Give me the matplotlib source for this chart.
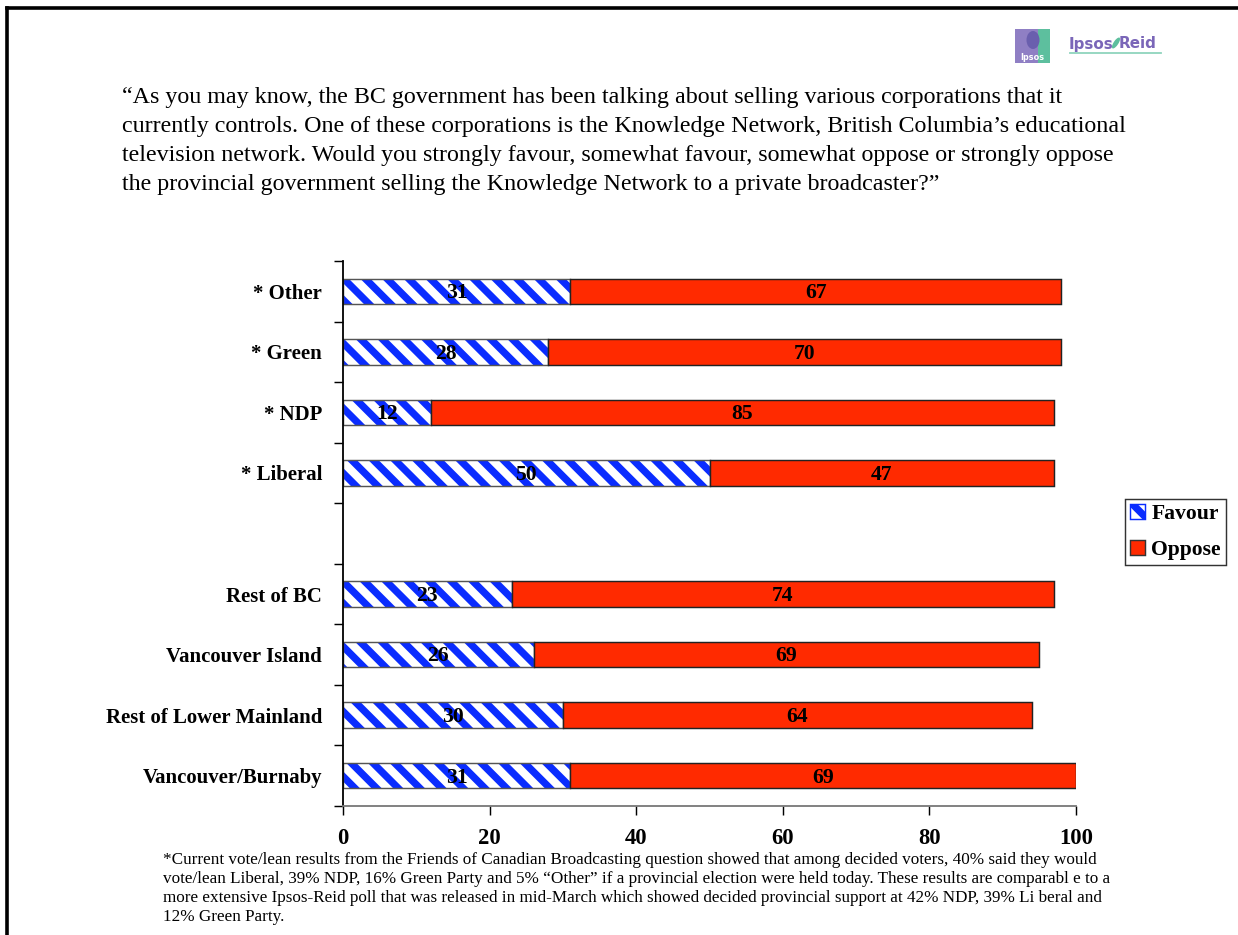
import numpy as np
import matplotlib.pyplot as plt
from matplotlib.patches import Rectangle, Ellipse
from matplotlib.lines import Line2D

# survey groups, top to bottom ("" is the spacer row between the two blocks)
categories = ["* Other", "* Green", "* NDP", "* Liberal", "",
              "Rest of BC", "Vancouver Island", "Rest of Lower Mainland", "Vancouver/Burnaby"]
favour = [31, 28, 12, 50, None, 23, 26, 30, 31]
oppose = [67, 70, 85, 47, None, 74, 69, 64, 69]

question = ("\u201cAs you may know, the BC government has been talking about selling various corporations that it\n"
            "currently controls. One of these corporations is the Knowledge Network, British Columbia\u2019s educational\n"
            "television network. Would you strongly favour, somewhat favour, somewhat oppose or strongly oppose\n"
            "the provincial government selling the Knowledge Network to a private broadcaster?\u201d")

footnote = ("*Current vote/lean results from the Friends of Canadian Broadcasting question showed that among decided voters, 40% said they would\n"
            "vote/lean Liberal, 39% NDP, 16% Green Party and 5% \u201cOther\u201d if a provincial election were held today. These results are comparabl e to a\n"
            "more extensive Ipsos-Reid poll that was released in mid-March which showed decided provincial support at 42% NDP, 39% Li beral and\n"
            "12% Green Party.")

W, H = 1238, 935
DPI = 130
BLUE = "#0a2cff"
RED = "#ff2a00"
SERIF = ["Liberation Serif", "DejaVu Serif"]

plt.rcParams["hatch.linewidth"] = 4.0


def fx(px):
    return px / W


def fy(py):
    return 1 - py / H


fig = plt.figure(figsize=(W / DPI, H / DPI), dpi=DPI)

# page frame (top and left edges)
fig.add_artist(Line2D([fx(7), fx(7)], [fy(8), 0], color="black", lw=2))
fig.add_artist(Line2D([fx(7), 1], [fy(8), fy(8)], color="black", lw=2))

ax = fig.add_axes([fx(343), fy(806), fx(1076) - fx(343), (806 - 261) / H])

n = len(categories)
ypos = np.arange(n)[::-1]
for y, f, o in zip(ypos, favour, oppose):
    if f is None:
        continue
    ax.barh(y, f, height=0.42, color="white", edgecolor=BLUE, hatch="\\\\", lw=0)
    ax.barh(y, f, height=0.42, color="none", edgecolor="#555555", lw=0.8)
    ax.barh(y, o, left=f, height=0.42, color=RED, edgecolor="#222222", lw=0.8)
    ax.text(f / 2, y - 0.03, str(f), ha="center", va="center", fontsize=12,
            fontweight="bold", family=SERIF)
    ax.text(f + o / 2, y - 0.03, str(o), ha="center", va="center", fontsize=12,
            fontweight="bold", family=SERIF)

ax.set_xlim(0, 100)
ax.set_ylim(-0.5, n - 0.5)
ax.set_xticks(range(0, 101, 20))
ax.set_xticklabels([str(v) for v in range(0, 101, 20)], fontsize=12.5,
                   fontweight="bold", family=SERIF)
ax.tick_params(axis="x", direction="out", length=5, width=0.8, pad=7, colors="black")

ax.set_yticks(ypos)
ax.set_yticklabels(categories, fontsize=11.5, fontweight="bold", family=SERIF)
ax.set_yticks(np.arange(-0.5, n, 1), minor=True)
ax.tick_params(axis="y", which="major", length=0, pad=11.5)
ax.tick_params(axis="y", which="minor", length=5, width=0.8)

for side in ("top", "right"):
    ax.spines[side].set_visible(False)
ax.spines["left"].set_color("black")
ax.spines["left"].set_linewidth(1)
ax.spines["bottom"].set_color("#777777")
ax.spines["bottom"].set_linewidth(1)

# legend
handles = [Rectangle((0, 0), 1, 1, facecolor="white", edgecolor=BLUE, hatch="\\\\", lw=0.8),
           Rectangle((0, 0), 1, 1, facecolor=RED, edgecolor="#333333", lw=0.8)]
leg = fig.legend(handles, ["Favour", "Oppose"], loc="center left",
                 bbox_to_anchor=(fx(1125), fy(532)), borderaxespad=0,
                 frameon=True, fancybox=False,
                 edgecolor="black", handlelength=0.7, handleheight=0.7, handletextpad=0.3,
                 borderpad=0.22, labelspacing=0.7,
                 prop={"family": SERIF, "weight": "bold", "size": 12})
leg.get_frame().set_linewidth(0.8)

# question text
fig.text(fx(122), fy(87), question, ha="left", va="top", fontsize=13.3,
         family=SERIF, linespacing=1.5)

# footnote
fig.text(fx(163), fy(852), footnote, ha="left", va="top", fontsize=9.5,
         family=SERIF, linespacing=1.26)

# Ipsos Reid logo
fig.add_artist(Rectangle((fx(1015), fy(63)), fx(35), 34 / H, facecolor="#8f7fc4",
                         edgecolor="none"))
fig.add_artist(Rectangle((fx(1038), fy(63)), fx(12), 34 / H, facecolor="#5dbf9e",
                         edgecolor="none"))
fig.add_artist(Ellipse((fx(1033), fy(40)), fx(13), 18 / H, facecolor="#6a5fae",
                       edgecolor="none"))
fig.text(fx(1032), fy(57), "Ipsos", ha="center", va="center", fontsize=4.5,
         color="white", fontweight="bold", family=["DejaVu Sans"])
fig.text(fx(1069), fy(44), "Ipsos", ha="left", va="center", fontsize=8.4,
         color="#7a66b8", fontweight="bold", family=["DejaVu Sans"])
fig.add_artist(Ellipse((fx(1116), fy(43)), fx(5), 12 / H, angle=-25,
                       facecolor="#5dbf9e", edgecolor="none"))
fig.text(fx(1119), fy(44), "Reid", ha="left", va="center", fontsize=8.4,
         color="#7a66b8", fontweight="bold", family=["DejaVu Sans"])
fig.add_artist(Line2D([fx(1070), fx(1161)], [fy(53), fy(53)], color="#8fd4bd", lw=1))

fig.savefig("out.png", dpi=DPI)
